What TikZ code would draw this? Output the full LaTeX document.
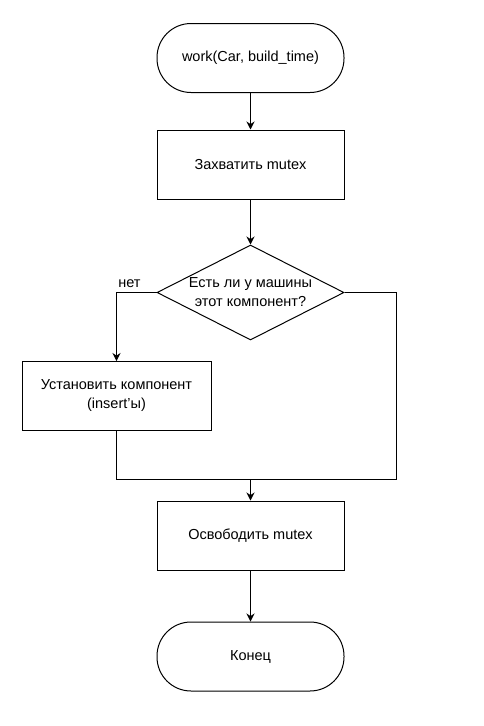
\documentclass[tikz,border=0pt]{standalone}
\usepackage{fontspec}
\setmainfont{Liberation Sans}
\usetikzlibrary{shapes.geometric,arrows.meta}

\tikzset{
  block/.style={draw,line width=1pt,minimum width=187pt,minimum height=69pt,align=center},
  term/.style={block,rounded corners=34pt},
  decision/.style={draw,line width=1pt,diamond,shape aspect=1.97,minimum width=187pt,minimum height=95pt,inner sep=0pt,align=center},
  line/.style={line width=1pt,-{Stealth[length=8pt,width=8pt]}}
}

\begin{document}
\begin{tikzpicture}[x=1pt,y=-1pt,font=\fontsize{14.5}{19}\selectfont]
      \useasboundingbox (0,0) rectangle (483,726);

      \node[term] (start) at (250.5,58) {work(Car, build\_time)};
      \node[block] (lock) at (250.5,164.5) {Захватить mutex};
      \node[decision] (check) at (250.5,292.5) {Есть ли у машины\\этот компонент?};
      \node[block,minimum width=189pt] (install) at (116.5,396) {Установить компонент\\(insert'ы)};
      \node[block] (unlock) at (250.5,535.5) {Освободить mutex};
      \node[term] (finish) at (250.5,656.5) {Конец};
      \coordinate (merge) at (250.5,479);

      \draw[line] (start) -- (lock);
      \draw[line] (lock) -- (check);
      \draw[line] (check.west) -| (install.north);
      \node (no) at (129.5,284) {нет};
      \draw[line width=1pt] (install.south) |- (merge);
      \draw[line width=1pt] (check.east) -- ++(52,0) |- (merge);
      \draw[line] (merge) -- (unlock);
      \draw[line] (unlock) -- (finish);
    \end{tikzpicture}
\end{document}
